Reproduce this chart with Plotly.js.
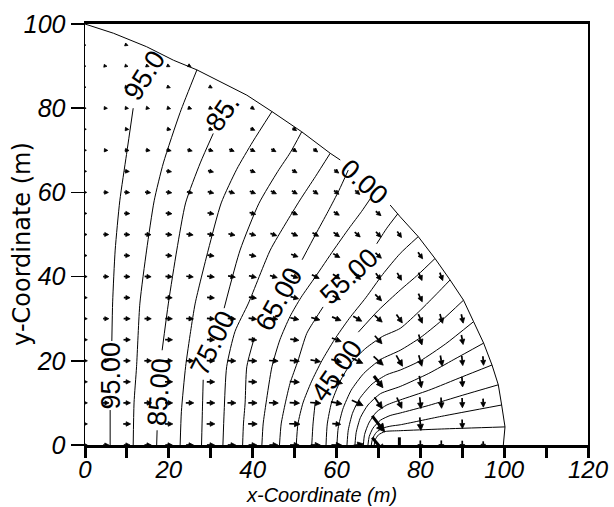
<!DOCTYPE html>
<html><head><meta charset="utf-8">
<script src="https://cdn.plot.ly/plotly-3.0.1.min.js"></script>
<style>html,body{margin:0;padding:0;background:#fff}#plot{width:614px;height:507px}</style>
</head><body><div id="plot"></div>
<script>
// ---------------- DATA ----------------
// Head contour lines (value in name) (x, y in m); null = gap under a label
const c95x = [6.0,6.0,null,6.4,6.6,7.2,8.3,9.9,11.5];
const c95y = [0,8.3,null,24.7,34,46.3,58,69,80];
const c90x = [11.5,11.7,12.3,13.1,14.7,16.5,18.7,22.7,26.7];
const c90y = [0,10,18.6,33.7,46.3,58,67,79,89.1];
const c85x = [17.1,17.2,null,18.4,19.9,21.9,24,27.5,30.6];
const c85y = [0,3.5,null,22.5,33.7,46.3,57.5,67,74];
const c80x = [22.7,23.0,24.0,25.2,26.3,29.4,32.5,36.2,40.0,44.6];
const c80y = [0,8,18.6,27,33.7,46.3,57.5,65.5,72,79.2];
const c75x = [27.8,28.0,28.2,null,33.2,37.0,41.5,46.0,49.0,51.7];
const c75y = [0,8,15.5,null,32.5,46.3,57.4,65,69.5,74.4];
const c70x = [32.9,33.2,33.8,35.8,39.0,44.2,47.8,51.3,55.0,58.5];
const c70y = [0,8,18.6,27,33.7,46.3,52.5,58.2,63.8,69.3];
const c65x = [37.6,37.8,38.2,38.6,40.4,null,51.8,55.0,58.0,60.6,62.8];
const c65y = [0,5,10,18.6,25.5,null,44,50,55.5,60.5,65.3];
const c60x = [42.2,42.5,43.2,44.6,46.5,48.9,51.5,55.0,59.3,63.0,66.0,68.4];
const c60y = [0,5,10,18.6,25,30.5,35,40,46.3,51.5,55.5,59.0];
const c55x = [46.4,46.8,47.8,48.9,50.8,52.9,55.0,56.8,null,69.6,72.0,74.6];
const c55y = [0,5,10,14.6,20,26.5,30,32.8,null,47.8,51.5,54.9];
const c50x = [50.4,50.8,52.0,54.0,56.5,59.5,63.0,67.0,71.0,75.2,79.5];
const c50y = [0,5,10,15,20,25,30,35,40.5,45.5,49.5];
const c45x = [54.1,54.4,54.9,null,65.2,70.0,75.2,79.5,83.5];
const c45y = [0,5,9.9,null,26.8,32,36.8,40.5,44.3];
const c40x = [57.5,57.8,58.8,60.8,63.5,67.0,71.0,75.2,80.0,84.0,87.1];
const c40y = [0,5,10,15,19.5,23,25.8,27.7,32,36,39.2];
const c35x = [60.1,60.4,61.5,63.5,66.5,70.5,75.2,80.0,85.0,90.3];
const c35y = [0,4,8.5,13,17,20.3,22.5,25.5,29.5,34.4];
const c30x = [62.5,62.8,63.8,65.5,68.5,72.0,75.2,80.0,86.0,92.7];
const c30y = [0,3.5,7.5,11,14.5,16.7,17.8,20,24,29.3];
const c25x = [64.4,64.7,65.7,67.5,70.5,75.2,82.0,88.0,95.1];
const c25y = [0,3,6.5,9.5,12.2,13.9,17,20.3,24.2];
const c20x = [66.4,66.7,67.7,69.5,72.0,75.2,82.0,90.0,97.1];
const c20y = [0,2.5,5.2,7.8,9.5,10.7,13,16.2,19.0];
const c15x = [67.5,67.8,68.7,70.5,72.8,75.2,82.0,90.0,98.6];
const c15y = [0,2,4,5.9,7,7.6,9.4,11.8,14.3];
const c10x = [68.3,68.6,69.5,71.0,73.0,75.2,85.0,99.4];
const c10y = [0,1.5,3,4,4.5,4.8,6.8,9.5];
const c5x  = [69.0,69.2,70.0,71.6,75.2,85.0,100.2];
const c5y  = [0,1.2,2.4,3.2,3.4,3.8,4.3];

// Outer model boundary (gap under the "0.00" label)
const boundX = [0,6.8,14.7,21.1,26.7,34.6,38.6,44.6,51.7,58.5,60.9,null,72.8,75.2,79.5,83.5,87.1,90.3,92.7,95.1,97.1,98.6,99.4,100.2,99.8];
const boundY = [100,97.8,94.6,91.4,89.1,85.1,83.1,79.2,74.4,69.3,67.7,null,57.0,54.2,49.5,44.3,39.2,34.4,29.3,24.2,19.0,14.3,9.5,4.3,0];

// Velocity vectors: node rows (y), node x positions, drawn length (m) and direction (deg)
const rowY = [95,90,85,80,75,70,65,60,55,50,45,40,35,30,25,20,15,10,5,0];
const rowX = [
 [0,10],
 [0,5,10,15,20,25],
 [0,10,20,30],
 [0,5,10,15,20,25,30,35,40],
 [0,10,20,30,40,50],
 [0,5,10,15,20,25,30,35,40,45,50,55],
 [0,10,20,30,40,50,60],
 [0,5,10,15,20,25,30,35,40,45,50,55,60,65],
 [0,10,20,30,40,50,60,70],
 [0,5,10,15,20,25,30,35,40,45,50,55,60,65,70,75],
 [0,10,20,30,40,50,60,70,80],
 [0,5,10,15,20,25,30,35,40,45,50,55,60,65,70,75,80,85],
 [0,10,20,30,40,50,60,70,80],
 [0,5,10,15,20,25,30,35,40,45,50,55,60,65,70,75,80,85,90],
 [0,10,20,30,40,50,60,70,80,90],
 [0,5,10,15,20,25,30,35,40,45,50,55,60,65,70,75,80,85,90,95],
 [0,10,20,30,40,50,60,70,80,90],
 [0,5,10,15,20,25,30,35,40,45,50,55,60,65,70,75,80,85,90,95],
 [0,10,20,30,40,50,60,70,80,90],
 [0,5,10,15,20,25,30,35,40,45,50,55,60,65,70,75,80,85,90,95]
];
const rowLen = [
 [0.3,0.4],
 [0.3,0.35,0.4,0.45,0.45,0.5],
 [0.35,0.45,0.55,0.6],
 [0.4,0.5,0.55,0.6,0.65,0.7,0.7,0.75,0.75],
 [0.45,0.65,0.75,0.8,0.85,0.85],
 [0.5,0.65,0.75,0.8,0.85,0.9,0.9,0.95,0.95,0.95,0.95,0.95],
 [0.55,0.85,0.95,1.0,1.0,1.0,1.0],
 [0.6,0.85,0.95,1.0,1.05,1.05,1.1,1.1,1.1,1.1,1.1,1.1,1.1,1.1],
 [0.65,1.0,1.1,1.15,1.15,1.15,1.15,1.2],
 [0.7,0.95,1.05,1.1,1.15,1.2,1.2,1.2,1.2,1.2,1.25,1.25,1.3,1.3,1.3,1.3],
 [0.7,1.05,1.15,1.2,1.25,1.3,1.35,1.4,1.4],
 [0.75,1.0,1.1,1.15,1.2,1.25,1.3,1.3,1.35,1.35,1.4,1.45,1.5,1.5,1.5,1.5,1.5,1.5],
 [0.8,1.1,1.2,1.3,1.35,1.45,1.55,1.6,1.6],
 [0.8,1.0,1.15,1.2,1.25,1.3,1.35,1.4,1.45,1.5,1.55,1.6,1.7,1.75,1.8,1.8,1.75,1.7,1.6],
 [0.85,1.2,1.3,1.35,1.45,1.55,1.75,1.9,1.9,1.7],
 [0.85,1.05,1.2,1.25,1.3,1.35,1.4,1.45,1.5,1.6,1.7,1.8,1.9,2.1,2.3,2.2,2.0,1.9,1.7,1.6],
 [0.85,1.25,1.35,1.4,1.5,1.7,2.2,2.6,2.1,1.8],
 [0.85,1.1,1.25,1.3,1.35,1.4,1.45,1.5,1.55,1.65,1.75,1.9,2.0,2.2,2.4,2.1,2.0,1.9,1.7,1.5],
 [0.85,1.3,1.4,1.45,1.6,1.9,1.5,3.6,2.3,1.6],
 [0.8,1.0,1.1,1.2,1.25,1.3,1.35,1.4,1.45,1.5,1.6,1.7,1.8,2.2,3.4,2.7,1.6,1.6,1.5,1.3]
];
const rowAng = [
 [-10,-20],
 [-5,-10,-15,-20,-25,-30],
 [-5,-12,-20,-30],
 [-3,-5,-8,-12,-15,-20,-25,-30,-35],
 [-2,-6,-12,-18,-26,-35],
 [0,-3,-5,-8,-11,-14,-18,-22,-26,-30,-34,-38],
 [0,-4,-8,-14,-22,-30,-38],
 [0,-2,-4,-6,-8,-11,-14,-18,-22,-26,-30,-34,-38,-42],
 [0,-3,-6,-10,-16,-24,-32,-40],
 [0,-1,-3,-4,-6,-8,-10,-13,-16,-20,-25,-30,-36,-42,-48,-55],
 [0,-2,-5,-8,-13,-20,-30,-42,-55],
 [0,-1,-2,-3,-4,-6,-8,-10,-13,-16,-20,-26,-33,-42,-52,-60,-66,-70],
 [0,-1,-2,-4,-8,-15,-27,-45,-65],
 [0,0,-1,-1,-2,-3,-4,-5,-7,-9,-12,-16,-22,-30,-42,-55,-66,-74,-78],
 [0,0,-1,-2,-4,-8,-20,-48,-72,-80],
 [0,0,0,0,-1,-1,-2,-2,-3,-4,-6,-10,-15,-25,-42,-60,-74,-80,-84,-86],
 [0,0,0,-1,-2,-4,-15,-52,-80,-86],
 [0,0,0,0,0,0,-1,-1,-1,-2,-3,-4,-10,-25,-55,-65,-84,-87,-88,-88],
 [0,0,0,0,-1,-2,-5,-52,-85,-88],
 [0,0,0,0,0,0,0,0,0,0,0,0,0,10,-50,-90,-90,-90,-90,-90]
];

// Contour labels
const labelText = ['95.00','85.00','75.00','65.00','55.00','45.00','95.0','85.','0.00'];
const labelX    = [6.2,17.8,30.5,46.3,63.1,60.0,14.3,33.0,66.6];
const labelY    = [16.5,12.5,24.2,34.7,40.2,17.6,87.9,79.0,62.5];
const labelAng  = [-90,-86,-64,-61,-43,-55,-58,-55,42];

// ---------------- BUILD ----------------
const contours = [[c95x,c95y],[c90x,c90y],[c85x,c85y],[c80x,c80y],[c75x,c75y],[c70x,c70y],
  [c65x,c65y],[c60x,c60y],[c55x,c55y],[c50x,c50y],[c45x,c45y],[c40x,c40y],[c35x,c35y],
  [c30x,c30y],[c25x,c25y],[c20x,c20y],[c15x,c15y],[c10x,c10y],[c5x,c5y]];

const traces = [];
contours.forEach(([x,y]) => traces.push({
  type:'scatter', mode:'lines', x:x, y:y, hoverinfo:'skip',
  line:{color:'#000', width:1, shape:'spline', smoothing:0.6}, connectgaps:false
}));
traces.push({type:'scatter', mode:'lines', x:boundX, y:boundY, hoverinfo:'skip',
  line:{color:'#000', width:1}, connectgaps:false});

// arrows: shafts + filled heads (vector scale is a display setting)
const vecScale = 1.35, pxPerM = 4.2;
const thinX=[], thinY=[], thickX=[], thickY=[], headX=[], headY=[];
rowY.forEach((y0,i) => {
  rowX[i].forEach((x0,j) => {
    const L = rowLen[i][j]*vecScale, a = rowAng[i][j]*Math.PI/180;
    const ux = Math.cos(a), uy = Math.sin(a);
    const tx = x0 - ux*L/2, ty = y0 - uy*L/2;
    const hx = x0 + ux*L/2, hy = y0 + uy*L/2;
    const h = (2.4 + 0.28*L*pxPerM)/pxPerM, w = 0.5*h;
    const bx = hx - ux*h, by = hy - uy*h;
    const big = rowLen[i][j] > 2.5;
    const sx = big ? thickX : thinX, sy = big ? thickY : thinY;
    sx.push(tx, bx, null); sy.push(ty, by, null);
    headX.push(hx, bx - uy*w, bx + uy*w, hx, null);
    headY.push(hy, by + ux*w, by - ux*w, hy, null);
  });
});
traces.push({type:'scatter', mode:'lines', x:thinX, y:thinY, cliponaxis:false, hoverinfo:'skip',
  line:{color:'#000', width:1.7}});
traces.push({type:'scatter', mode:'lines', x:thickX, y:thickY, cliponaxis:false, hoverinfo:'skip',
  line:{color:'#000', width:3}});
traces.push({type:'scatter', mode:'lines', x:headX, y:headY, cliponaxis:false, hoverinfo:'skip',
  fill:'toself', fillcolor:'#000', line:{color:'#000', width:0.8}});

const ann = labelText.map((t,i) => ({
  x:labelX[i], y:labelY[i], xref:'x', yref:'y', text:t, showarrow:false,
  textangle:labelAng[i], xanchor:'center', yanchor:'middle',
  font:{family:'Liberation Sans, Arial, sans-serif', size:27, color:'#000'}
}));
ann.push({x:0.47, y:-0.1176, xref:'paper', yref:'paper', text:'x-Coordinate (m)', showarrow:false,
  xanchor:'center', yanchor:'middle', borderpad:0,
  font:{family:'Liberation Sans, Arial, sans-serif', size:20, style:'italic', color:'#000'}});
ann.push({x:-0.125, y:0.478, xref:'paper', yref:'paper', text:'y-Coordinate (m)', showarrow:false,
  textangle:-90, xanchor:'center', yanchor:'middle',
  font:{family:'DejaVu Sans, sans-serif', size:24, color:'#000'}});

const tickFont = {family:'Liberation Sans, Arial, sans-serif', size:25, style:'italic', color:'#000'};
const xTickFont = {family:'Liberation Sans, Arial, sans-serif', size:24, style:'italic', color:'#000'};
const layout = {
  width:614, height:507,
  margin:{l:85, r:26, t:24, b:62, pad:0},
  paper_bgcolor:'#fff', plot_bgcolor:'#fff', showlegend:false,
  xaxis:{range:[0,120], tick0:0, dtick:20, ticks:'outside', ticklen:10, tickwidth:3, tickcolor:'#000',
    showline:true, linewidth:3, linecolor:'#000', mirror:true, showgrid:false, zeroline:false,
    tickfont:xTickFont, ticklabelstandoff:-9, fixedrange:true,
    minor:{tick0:0, dtick:10, ticks:'outside', ticklen:10, tickwidth:3, tickcolor:'#000', showgrid:false}},
  yaxis:{range:[0,100], tick0:0, dtick:20, ticks:'outside', ticklen:13, tickwidth:1.5, tickcolor:'#000',
    showline:true, linewidth:1.5, linecolor:'#000', mirror:true, showgrid:false, zeroline:false,
    tickfont:tickFont, fixedrange:true},
  annotations:ann
};
Plotly.newPlot('plot', traces, layout, {staticPlot:true, displayModeBar:false});
</script>
</body></html>
